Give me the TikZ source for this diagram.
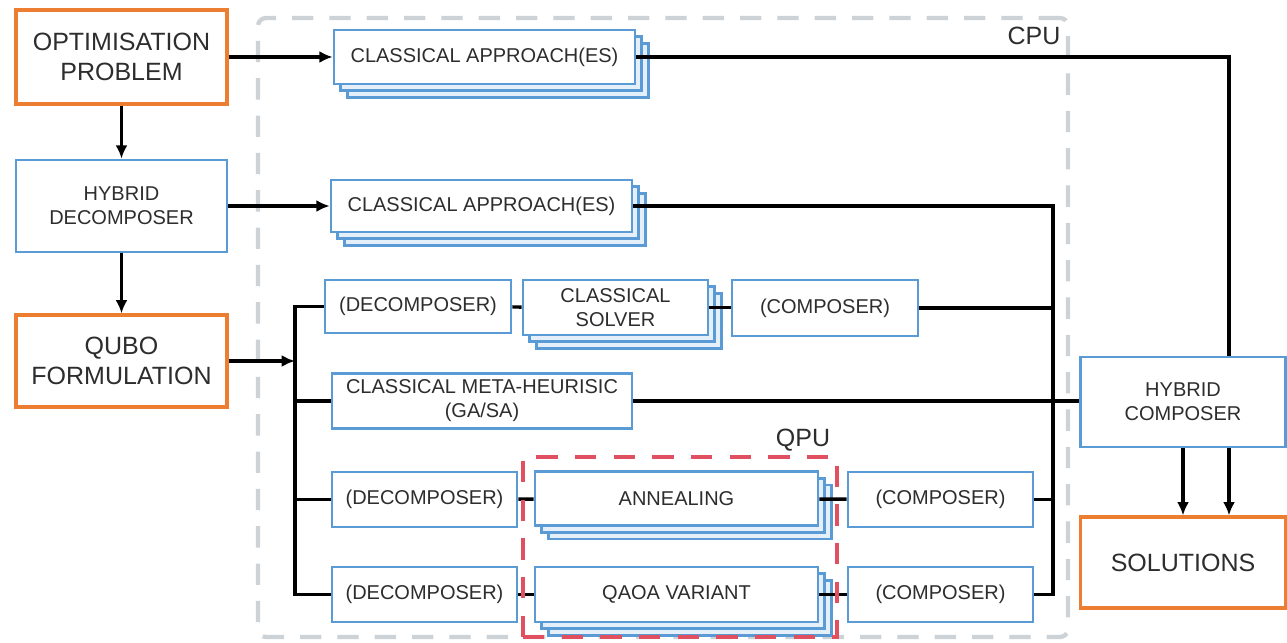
\documentclass[tikz,border=0pt]{standalone}
\usepackage{fontspec}
\setmainfont{Liberation Sans}
\usetikzlibrary{shadows,arrows.meta}

\definecolor{boxorange}{RGB}{237,125,49}
\definecolor{boxblue}{RGB}{91,155,213}
\definecolor{shadeblue}{RGB}{228,239,250}
\definecolor{cpugray}{RGB}{205,210,215}
\definecolor{qpured}{RGB}{224,80,96}
\definecolor{textgray}{RGB}{45,45,45}

\tikzset{
  bigbox/.style={draw=boxorange, line width=2.4pt, fill=white, inner sep=0pt, align=center, text=textgray,
    font=\fontsize{18.75}{22.5}\selectfont},
  bluebox/.style={draw=boxblue, line width=2pt, fill=white, inner sep=0pt, align=center, text=textgray,
    font=\fontsize{15}{18}\selectfont},
  stackbox/.style={bluebox, double copy shadow={shadow xshift=5pt, shadow yshift=-5pt, fill=shadeblue, draw=boxblue, line width=2pt}},
  link/.style={line width=2.6pt},
}

\begin{document}
\begin{tikzpicture}[x=0.75pt, y=-0.75pt, >={Latex[length=10pt,width=9pt]}]
  \useasboundingbox (0,0) rectangle (1287,642);

  % CPU frame
  \node[draw=cpugray, line width=3.2pt, dash pattern=on 16pt off 12pt, rounded corners=6pt,
        minimum width=607.5pt, minimum height=464.25pt] (cpu) at (663,327.5) {};
  \node[text=textgray, font=\fontsize{18.75}{22.5}\selectfont] (cpulbl) at (1034,36) {CPU};

  % left column
  \node[bigbox, minimum width=158.25pt, minimum height=70.5pt] (opt) at (121.5,57) {OPTIMISATION\\PROBLEM};
  \node[bluebox, minimum width=158.25pt, minimum height=69pt] (hdec) at (121.5,206) {HYBRID\\DECOMPOSER};
  \node[bigbox, minimum width=158.25pt, minimum height=69pt] (qubo) at (121.5,361) {QUBO\\FORMULATION};

  % classical approaches
  \node[stackbox, minimum width=225.75pt, minimum height=40.5pt] (ca1) at (484.5,57) {CLASSICAL APPROACH(ES)};
  \node[stackbox, minimum width=225.75pt, minimum height=39pt] (ca2) at (481.5,206) {CLASSICAL APPROACH(ES)};

  % solver rows
  \node[bluebox, minimum width=139.5pt, minimum height=39.75pt] (dec1) at (418,306.5) {(DECOMPOSER)};
  \node[stackbox, minimum width=138.75pt, minimum height=41.25pt] (solv) at (615.5,307.5) {CLASSICAL\\SOLVER};
  \node[bluebox, minimum width=139.5pt, minimum height=42pt] (comp1) at (825,308) {(COMPOSER)};
  \node[bluebox, minimum width=225pt, minimum height=41.25pt] (meta) at (482,401) {CLASSICAL META-HEURISIC\\(GA/SA)};
  \node[bluebox, minimum width=138.75pt, minimum height=41.25pt] (dec2) at (424.5,499.5) {(DECOMPOSER)};
  \node[stackbox, minimum width=212.25pt, minimum height=40.5pt] (anneal) at (676.5,498.5) {ANNEALING};
  \node[bluebox, minimum width=138.75pt, minimum height=41.25pt] (comp2) at (940.5,499.5) {(COMPOSER)};
  \node[bluebox, minimum width=138.75pt, minimum height=41.25pt] (dec3) at (424.5,594.5) {(DECOMPOSER)};
  \node[stackbox, minimum width=212.25pt, minimum height=41.25pt] (qaoa) at (676.5,594.5) {QAOA VARIANT};
  \node[bluebox, minimum width=138.75pt, minimum height=41.25pt] (comp3) at (940.5,594.5) {(COMPOSER)};

  % right column
  \node[bluebox, minimum width=153.75pt, minimum height=67.5pt] (hcomp) at (1183,402) {HYBRID\\COMPOSER};
  \node[bigbox, minimum width=153.75pt, minimum height=68.25pt] (sol) at (1183,562.5) {SOLUTIONS};

  \coordinate (bus) at (295,361);
  \coordinate (cbus) at (1053,206);

  % connectors
  \draw[link,->] (opt) -- (hdec);
  \draw[link,->] (hdec) -- (qubo);
  \draw[link,->] (opt.east) -- (opt.east -| ca1.west);
  \draw[link,->] (hdec.east) -- (hdec.east -| ca2.west);
  \draw[link,->] (qubo.east) -- (bus);
  \draw[link] (dec1.west) -- (dec1.west -| bus) -- (dec3.west -| bus) -- (dec3.west);
  \draw[link] (meta.west) -- (meta.west -| bus);
  \draw[link] (dec2.west) -- (dec2.west -| bus);
  \draw[link] (dec1) -- (solv);
  \draw[link] (solv.east) -- (solv.east -| comp1.west);
  \draw[link] (dec2) -- (anneal);
  \draw[link] (anneal) -- (comp2);
  \draw[link] (dec3) -- (qaoa);
  \draw[link] (qaoa) -- (comp3);
  \draw[link] (ca1.east) -| ([xshift=34.5pt]hcomp.north);
  \draw[link] (ca2.east) -| (comp3.east -| cbus) -- (comp3.east);
  \draw[link] (comp1.east) -- (comp1.east -| cbus);
  \draw[link] (comp2.east) -- (comp2.east -| cbus);
  \draw[link] (meta.east) -- (meta.east -| hcomp.west);
  \draw[link,->] (hcomp.south) -- (sol.north);
  \draw[link,->] ([xshift=34.5pt]hcomp.south) -- ([xshift=34.5pt]sol.north);

  % QPU frame
  \node[draw=qpured, line width=3pt, dash pattern=on 16pt off 13pt,
        minimum width=235.5pt, minimum height=135pt] (qpu) at (680,547) {};
  \node[text=textgray, font=\fontsize{18.75}{22.5}\selectfont] (qpulbl) at (803,440) {QPU};
\end{tikzpicture}
\end{document}
